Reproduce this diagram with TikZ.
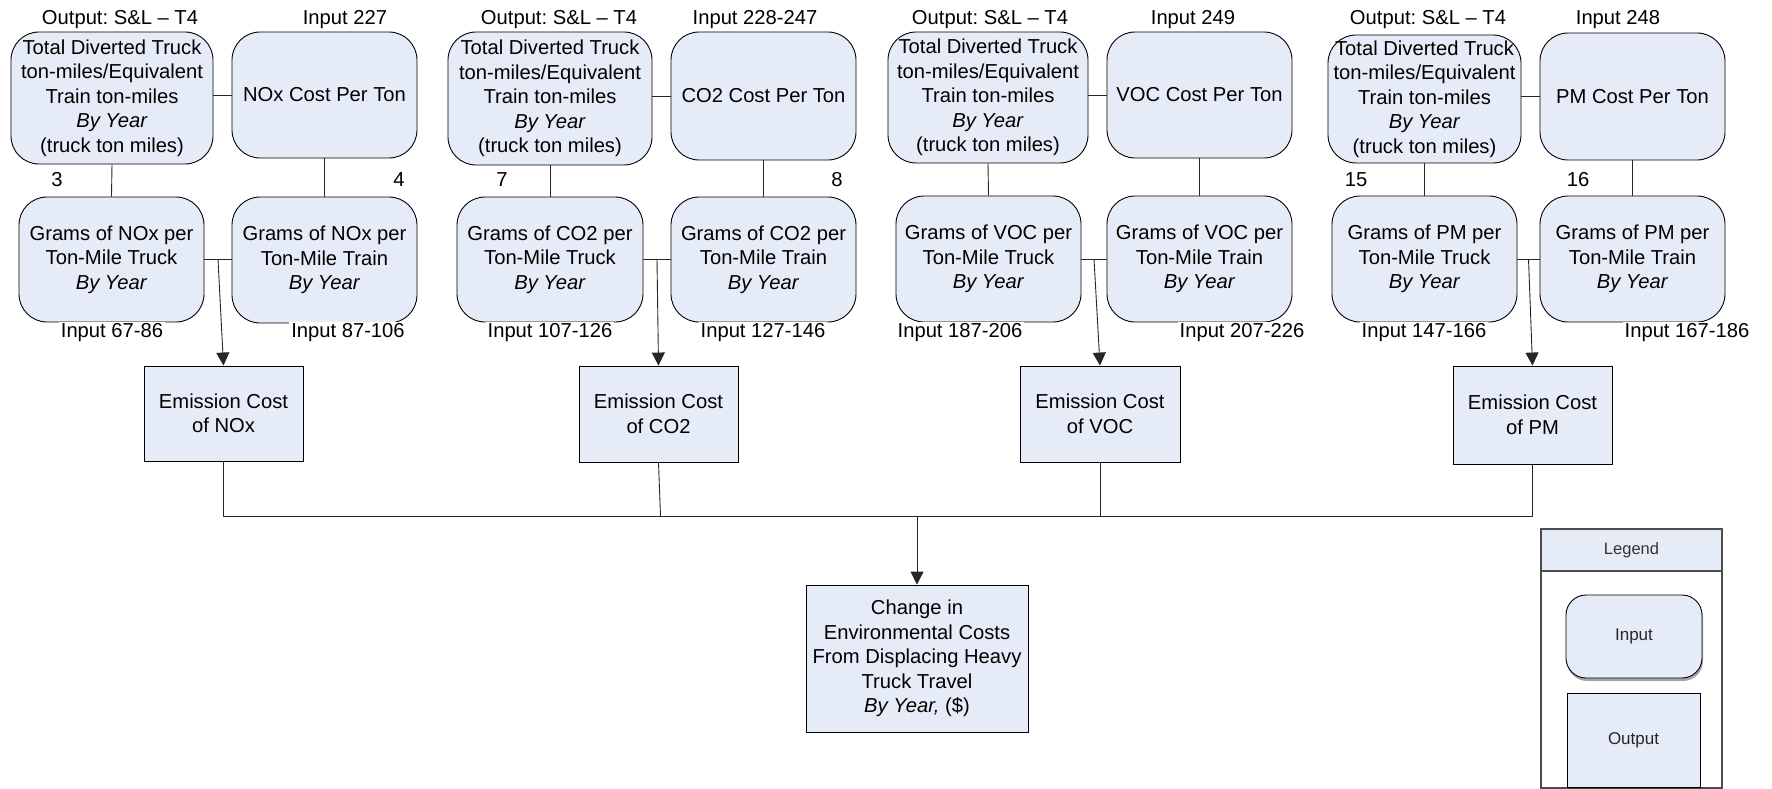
\documentclass[tikz,border=0pt]{standalone}
\usepackage{fontspec}
\setmainfont{Liberation Sans}
\usetikzlibrary{arrows.meta,calc}
\definecolor{boxfill}{RGB}{230,236,247}
\frenchspacing
\begin{document}
\begin{tikzpicture}[x=1pt,y=-1pt,
  every node/.style={font=\fontsize{20.2}{24.5}\selectfont},
  inbox/.style={draw=black, line width=0.9pt, fill=boxfill, rounded corners=28pt, align=center, inner sep=0pt},
  outbox/.style={draw=black, line width=0.9pt, fill=boxfill, align=center, inner sep=0pt},
  lbl/.style={fill=white, inner xsep=2pt, inner ysep=2pt},
  wire/.style={line width=0.9pt, draw=black!85},
  arr/.style={wire, -{Triangle[length=13pt,width=13pt]}},
]
\useasboundingbox (0,0) rectangle (1772,789);

% ---------- NOx ----------
\node[inbox, minimum width=202pt, minimum height=132pt] (tot1) at (112,98)
  {Total Diverted Truck\\ton-miles/Equivalent\\Train ton-miles\\\textit{By Year}\\(truck ton miles)};
\node[inbox, minimum width=185pt, minimum height=126pt] (cost1) at (324.5,95) {NOx Cost Per Ton};
\node[inbox, minimum width=185pt, minimum height=125pt] (gt1) at (111.5,259.5)
  {Grams of NOx per\\Ton-Mile Truck\\\textit{By Year}};
\node[inbox, minimum width=185pt, minimum height=126pt] (gr1) at (324.5,260)
  {Grams of NOx per\\Ton-Mile Train\\\textit{By Year}};
\node[outbox, minimum width=159pt, minimum height=95pt] (em1) at (223.5,413.5) {Emission Cost\\of NOx};

% ---------- CO2 ----------
\node[inbox, minimum width=204pt, minimum height=133pt] (tot2) at (550,98.5)
  {Total Diverted Truck\\ton-miles/Equivalent\\Train ton-miles\\\textit{By Year}\\(truck ton miles)};
\node[inbox, minimum width=185pt, minimum height=128pt] (cost2) at (763.5,96) {CO2 Cost Per Ton};
\node[inbox, minimum width=186pt, minimum height=125pt] (gt2) at (550,259.5)
  {Grams of CO2 per\\Ton-Mile Truck\\\textit{By Year}};
\node[inbox, minimum width=185pt, minimum height=125pt] (gr2) at (763.5,259.5)
  {Grams of CO2 per\\Ton-Mile Train\\\textit{By Year}};
\node[outbox, minimum width=159pt, minimum height=96pt] (em2) at (658.5,414) {Emission Cost\\of CO2};

% ---------- VOC ----------
\node[inbox, minimum width=200pt, minimum height=131pt] (tot3) at (988,97.5)
  {Total Diverted Truck\\ton-miles/Equivalent\\Train ton-miles\\\textit{By Year}\\(truck ton miles)};
\node[inbox, minimum width=185pt, minimum height=126pt] (cost3) at (1199.5,95) {VOC Cost Per Ton};
\node[inbox, minimum width=185pt, minimum height=126pt] (gt3) at (988.5,259)
  {Grams of VOC per\\Ton-Mile Truck\\\textit{By Year}};
\node[inbox, minimum width=185pt, minimum height=126pt] (gr3) at (1199.5,259)
  {Grams of VOC per\\Ton-Mile Train\\\textit{By Year}};
\node[outbox, minimum width=160pt, minimum height=96pt] (em3) at (1100,414) {Emission Cost\\of VOC};

% ---------- PM ----------
\node[inbox, minimum width=193pt, minimum height=128pt] (tot4) at (1424.5,99)
  {Total Diverted Truck\\ton-miles/Equivalent\\Train ton-miles\\\textit{By Year}\\(truck ton miles)};
\node[inbox, minimum width=185pt, minimum height=127pt] (cost4) at (1632.5,96.5) {PM Cost Per Ton};
\node[inbox, minimum width=185pt, minimum height=126pt] (gt4) at (1424.5,259)
  {Grams of PM per\\Ton-Mile Truck\\\textit{By Year}};
\node[inbox, minimum width=185pt, minimum height=126pt] (gr4) at (1632.5,259)
  {Grams of PM per\\Ton-Mile Train\\\textit{By Year}};
\node[outbox, minimum width=159pt, minimum height=98pt] (em4) at (1532.5,415) {Emission Cost\\of PM};

% ---------- total ----------
\node[outbox, minimum width=222pt, minimum height=147pt] (fin) at (917,658.5)
  {Change in\\Environmental Costs\\From Displacing Heavy\\Truck Travel\\\textit{By Year,} (\$)};

% ---------- connectors within each group ----------
\foreach \i in {1,2,3,4} {
  \draw[wire] (tot\i.east |- cost\i.west) -- (cost\i.west);
  \draw[wire] (tot\i.south) -- (gt\i.north);
  \draw[wire] (cost\i.south) -- (gr\i.north);
  \draw[wire] (gt\i.east) -- (gr\i.west |- gt\i.east);
  \coordinate (j\i) at ($(gt\i.east)!0.5!(gr\i.west |- gt\i.east)$);
  \draw[arr] (j\i) -- (em\i.north);
}

% ---------- collecting bus ----------
\coordinate (bus) at (0,516);
\draw[wire] (em1.south) -- (em1.south |- bus) -- (em4.south |- bus) -- (em4.south);
\draw[wire] (em2.south) -- ($(em2.south |- bus)+(2,0)$);
\draw[wire] (em3.south) -- (em3.south |- bus);
\draw[arr] (fin.north |- bus) -- (fin.north);

% ---------- labels ----------
\node[lbl] (o1) at (120,20) {Output: S\&L – T4};
\node[lbl] (i1) at (345,20) {Input 227};
\node[lbl] (n3) at (57,180) {3};
\node[lbl] (n4) at (399,180) {4};
\node[lbl] (a1) at (112,333) {Input 67-86};
\node[lbl] (b1) at (348,333) {Input 87-106};

\node[lbl] (o2) at (559,20) {Output: S\&L – T4};
\node[lbl] (i2) at (755,20) {Input 228-247};
\node[lbl] (n7) at (502,180) {7};
\node[lbl] (n8) at (837,180) {8};
\node[lbl] (a2) at (550,333) {Input 107-126};
\node[lbl] (b2) at (763,333) {Input 127-146};

\node[lbl] (o3) at (990,20) {Output: S\&L – T4};
\node[lbl] (i3) at (1193,20) {Input 249};
\node[lbl] (a3) at (960,333) {Input 187-206};
\node[lbl] (b3) at (1242,333) {Input 207-226};

\node[lbl] (o4) at (1428,20) {Output: S\&L – T4};
\node[lbl] (i4) at (1618,20) {Input 248};
\node[lbl] (n15) at (1356,180) {15};
\node[lbl] (n16) at (1578,180) {16};
\node[lbl] (a4) at (1424,333) {Input 147-166};
\node[lbl] (b4) at (1687,333) {Input 167-186};

% ---------- legend ----------
\node[draw=black!70, line width=1.8pt, minimum width=181pt, minimum height=259pt, inner sep=0pt] (leg) at (1631.5,658.5) {};
\node[draw=black!70, line width=1.5pt, fill=boxfill, minimum width=181pt, minimum height=42pt, inner sep=0pt,
      font=\fontsize{16.5}{20}\selectfont, text=black!80] (leghd) at (1631.5,550) {Legend};
\node[fill=black!35, rounded corners=20pt, minimum width=136pt, minimum height=83pt, inner sep=0pt] (legins) at (1635,639.5) {};
\node[inbox, rounded corners=20pt, minimum width=136pt, minimum height=83pt,
      font=\fontsize{17}{20}\selectfont, text=black!85] (legin) at (1634,636.5) {Input};
\node[fill=black!75, minimum width=133pt, minimum height=94pt, inner sep=0pt] (legouts) at (1634.5,742.5) {};
\node[outbox, minimum width=133pt, minimum height=94pt,
      font=\fontsize{17}{20}\selectfont, text=black!85] (legout) at (1633.5,740) {Output};
\end{tikzpicture}
\end{document}
